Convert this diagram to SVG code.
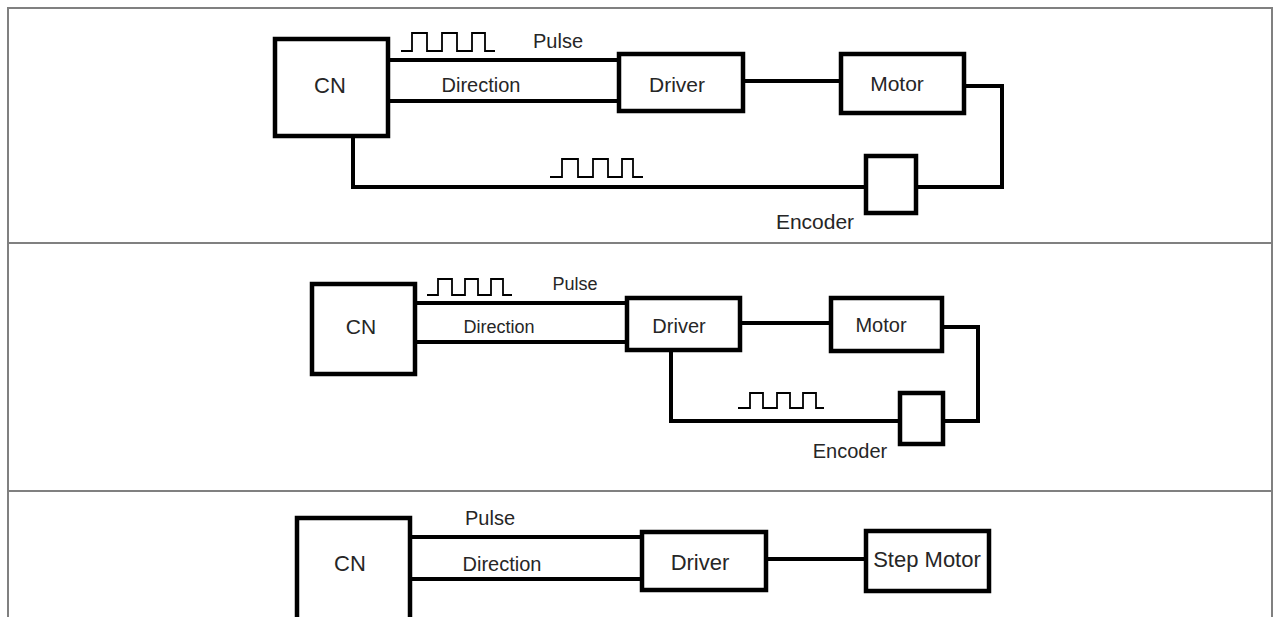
<svg xmlns="http://www.w3.org/2000/svg" width="1274" height="617" viewBox="0 0 1274 617">
<style>
.grid{fill:none;stroke:#808080;stroke-width:2}
.box{fill:none;stroke:#000;stroke-width:4.5}
.wire{fill:none;stroke:#000;stroke-width:4;stroke-linejoin:miter}
.wave{fill:none;stroke:#000;stroke-width:1.8}
text{font-family:"Liberation Sans",Arial,sans-serif;fill:#262626;text-anchor:middle}
.l1{font-size:20px}.b1{font-size:21px}
.l2{font-size:18px}.b2{font-size:20px}
.l3{font-size:20px}.b3{font-size:22px}
</style>
<rect x="0" y="0" width="1274" height="617" fill="#fff"/>
<g id="table">
<path class="grid" d="M8,630 V8 H1272 V630"/>
<line class="grid" x1="8" y1="243" x2="1272" y2="243"/>
<line class="grid" x1="8" y1="491" x2="1272" y2="491"/>
</g>
<!-- Panel 1 -->
<g id="p1-connectors">
<line class="wire" x1="388" y1="60" x2="619" y2="60"/>
<line class="wire" x1="388" y1="101" x2="619" y2="101"/>
<line class="wire" x1="743" y1="81" x2="841" y2="81"/>
<path class="wire" d="M964,86 H1002 V187 H916"/>
<path class="wire" d="M353,136 V187 H866"/>
<path class="wave" d="M401,51 H412 V33 H427 V51 H442 V33 H457 V51 H472 V33 H485 V51 H495"/>
<path class="wave" d="M550,177 H562 V159 H578 V177 H593 V159 H608 V177 H622 V159 H633 V177 H643"/>
<text class="l1" x="558" y="48">Pulse</text>
<text class="l1" x="481" y="92">Direction</text>
</g>
<g id="p1-cn"><rect class="box" x="275" y="39" width="113" height="97"/><text class="b1" x="330" y="93" style="font-size:22px">CN</text></g>
<g id="p1-driver"><rect class="box" x="619" y="54" width="124" height="57"/><text class="b1" x="677" y="92">Driver</text></g>
<g id="p1-motor"><rect class="box" x="841" y="54" width="123" height="59"/><text class="b1" x="897" y="91">Motor</text></g>
<g id="p1-encoder"><rect class="box" x="866" y="156" width="50" height="57"/><text class="b1" x="815" y="229">Encoder</text></g>
<!-- Panel 2 -->
<g id="p2-connectors">
<line class="wire" x1="415" y1="303" x2="627" y2="303"/>
<line class="wire" x1="415" y1="342" x2="627" y2="342"/>
<line class="wire" x1="740" y1="323" x2="831" y2="323"/>
<path class="wire" d="M942,327 H978 V421 H943"/>
<path class="wire" d="M671,350 V421 H900"/>
<path class="wave" d="M427,295 H438 V279 H452 V295 H465 V279 H478 V295 H491 V279 H503 V295 H512"/>
<path class="wave" d="M738,408 H750 V393 H763 V408 H777 V393 H790 V408 H803 V393 H816 V408 H824"/>
<text class="l2" x="575" y="290">Pulse</text>
<text class="l2" x="499" y="333">Direction</text>
</g>
<g id="p2-cn"><rect class="box" x="312" y="284" width="103" height="90"/><text class="b2" x="361" y="334" style="font-size:21px">CN</text></g>
<g id="p2-driver"><rect class="box" x="627" y="298" width="113" height="52"/><text class="b2" x="679" y="333">Driver</text></g>
<g id="p2-motor"><rect class="box" x="831" y="298" width="111" height="53"/><text class="b2" x="881" y="332">Motor</text></g>
<g id="p2-encoder"><rect class="box" x="900" y="393" width="43" height="51"/><text class="b2" x="850" y="458">Encoder</text></g>
<!-- Panel 3 -->
<g id="p3-connectors">
<line class="wire" x1="410" y1="537" x2="642" y2="537"/>
<line class="wire" x1="410" y1="579" x2="642" y2="579"/>
<line class="wire" x1="766" y1="559" x2="866" y2="559"/>
<text class="l3" x="490" y="525">Pulse</text>
<text class="l3" x="502" y="571">Direction</text>
</g>
<g id="p3-cn"><rect class="box" x="297" y="518" width="113" height="130"/><text class="b3" x="350" y="571">CN</text></g>
<g id="p3-driver"><rect class="box" x="642" y="532" width="124" height="58"/><text class="b3" x="700" y="570">Driver</text></g>
<g id="p3-stepmotor"><rect class="box" x="866" y="531" width="123" height="60"/><text class="b3" x="927" y="567">Step Motor</text></g>
</svg>
